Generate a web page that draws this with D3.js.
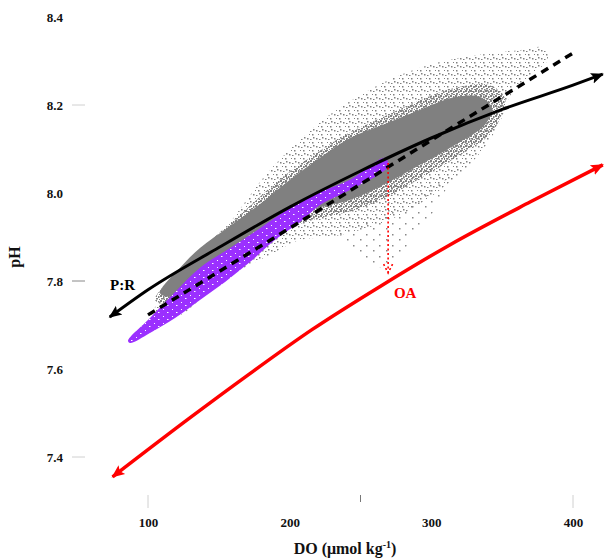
<!DOCTYPE html>
<html>
<head>
<meta charset="utf-8">
<script src="https://cdn.jsdelivr.net/npm/d3@7"></script>
<style>
body { margin: 0; background: #fff; }
svg text { font-family: "Liberation Serif", "Times New Roman", serif; font-weight: bold; }
</style>
</head>
<body>
<div id="chart"></div>
<script>
// tick labels
var xTicks = [100, 200, 300, 400];
var yTicks = [7.4, 7.6, 7.8, 8.0, 8.2, 8.4];
// only these tick marks are visible in the figure
var xTickMarks = [100, 250, 400];
var yTickMarks = [7.4, 7.8, 8.2];

// gray observation cloud, drawn as outlines [DO, pH]
var cloudFaint = [[235,7.900],[260,7.940],[290,7.985],[312,8.030],[302,7.960],[285,7.890],[270,7.830],[252,7.850]];
var cloudSparse = [[101,7.716],[119,7.791],[140,7.870],[158,7.934],[172,7.995],[186,8.052],[207,8.120],[228,8.177],
	[250,8.223],[278,8.268],[306,8.298],[334,8.314],[363,8.325],[380,8.330],[382,8.302],[370,8.268],[356,8.223],
	[349,8.166],[341,8.120],[327,8.064],[306,8.007],[285,7.962],[265,7.932],[245,7.912],[228,7.900],
	[207,7.893],[186,7.859],[165,7.825],[144,7.780],[123,7.723]];
var cloudMid = [[105,7.757],[126,7.836],[147,7.900],[168.5,7.960],[190,8.023],[214,8.080],[239,8.132],[264,8.170],
	[292,8.211],[317,8.239],[341,8.245],[352,8.216],[348.5,8.170],[341,8.132],[320,8.086],[296,8.041],[271,7.995],
	[246,7.961],[221,7.943],[200,7.920],[179,7.882],[158,7.843],[137,7.798],[115.5,7.750]];
var cloudCore = [[108.5,7.772],[122.6,7.830],[136.7,7.875],[157.9,7.925],[179.1,7.975],[200.2,8.030],[221.4,8.080],
	[242.6,8.125],[265.9,8.155],[292,8.189],[316.7,8.218],[334.4,8.218],[342.8,8.193],[337.9,8.155],[316.7,8.109],
	[292,8.064],[265.9,8.018],[242.6,7.984],[221.4,7.968],[200.2,7.945],[179.1,7.905],[157.9,7.868],[136.7,7.820],
	[118,7.765]];

// purple traces, as the outline of the bundle
var purpleBand = [[85.9,7.664],[101.4,7.716],[119.1,7.775],[136.7,7.830],[157.9,7.875],[179.1,7.920],[200.2,7.966],
	[221.4,8.002],[242.6,8.030],[267.3,8.080],[269.4,8.061],[242.6,8.007],[221.4,7.973],[207.3,7.934],[189.6,7.893],
	[172,7.843],[154.4,7.798],[136.7,7.757],[119.1,7.716],[101.4,7.682],[87.3,7.659]];

// P:R curve (solid black), linear fit (dashed), OA shifted curve (red)
var prCurve = [[73,7.718],[100,7.780],[150,7.876],[200,7.968],[250,8.050],[300,8.125],[350,8.190],[400,8.245],[421,8.270]];
var fitLine = [[100,7.723],[200,7.920],[300,8.120],[401,8.320]];
var oaCurve = [[75,7.355],[130,7.490],[170,7.585],[216,7.690],[265,7.790],[313,7.882],[370,7.980],[421,8.064]];
var oaShift = [[269.5,8.068],[269.5,7.818]];

var width = 604, height = 560;

var svg = d3.select("#chart")
	.append("svg")
	.attr("width", width)
	.attr("height", height);

// DO 100 -> 148px, 400 -> 573px ; pH 7.4 -> 457px, 8.4 -> 17px
var x = d3.scaleLinear().domain([100, 400]).range([148, 573]);
var y = d3.scaleLinear().domain([7.4, 8.4]).range([457, 17]);

var defs = svg.append("defs");

// dot patterns for the thinner parts of the cloud
function addPattern(id, w, h, color, rects) {
	var p = defs.append("pattern").attr("id", id)
		.attr("width", w).attr("height", h).attr("patternUnits", "userSpaceOnUse");
	rects.forEach(function(r) {
		p.append("rect").attr("x", r[0]).attr("y", r[1]).attr("width", r[2]).attr("height", r[3]).attr("fill", color);
	});
}
addPattern("faint", 13, 11, "#888", [[2,3,1.5,1.5],[9,8,1.5,1.5]]);
addPattern("sparse", 9, 8, "#808080", [[1,2,1.5,1.5],[6,6,1.5,1.5],[7,1,1.5,1.5],[3,6,1,1],[4,3,1.5,1]]);
addPattern("mid", 5, 5, "#808080", [[0,0,2,2],[3,1,1.5,2],[1,3,2,1.5],[4,4,1,1]]);
addPattern("speck", 9, 7, "#ffffff", [[1,1,1,1],[5,4,1.5,1]]);

function addArrow(id, color) {
	defs.append("marker")
		.attr("id", id)
		.attr("viewBox", "0 0 10 10")
		.attr("refX", 9)
		.attr("refY", 5)
		.attr("markerWidth", 13)
		.attr("markerHeight", 13)
		.attr("markerUnits", "userSpaceOnUse")
		.attr("orient", "auto-start-reverse")
		.append("path")
		.attr("d", "M0,0.8L10,5L0,9.2L2,5z")
		.attr("fill", color);
}
addArrow("headBlack", "#000");
addArrow("headRed", "#ff0000");

var area = d3.line()
	.x(function(d) { return x(d[0]); })
	.y(function(d) { return y(d[1]); })
	.curve(d3.curveCatmullRomClosed.alpha(0.5));

var line = d3.line()
	.x(function(d) { return x(d[0]); })
	.y(function(d) { return y(d[1]); })
	.curve(d3.curveMonotoneX);

// cloud
svg.append("path").attr("d", area(cloudFaint)).attr("fill", "url(#faint)");
svg.append("path").attr("d", area(cloudSparse)).attr("fill", "url(#sparse)");
svg.append("path").attr("d", area(cloudMid)).attr("fill", "url(#mid)");
svg.append("path").attr("d", area(cloudCore)).attr("fill", "#808080");

// purple bundle
svg.append("path").attr("d", area(purpleBand)).attr("fill", "#9b30ff");
svg.append("path").attr("d", area(purpleBand)).attr("fill", "url(#speck)");

// dashed fit
svg.append("path")
	.attr("d", line(fitLine))
	.attr("fill", "none")
	.attr("stroke", "#000")
	.attr("stroke-width", 3.5)
	.attr("stroke-dasharray", "8,6");

// P:R arrow
svg.append("path")
	.attr("d", line(prCurve))
	.attr("fill", "none")
	.attr("stroke", "#000")
	.attr("stroke-width", 3)
	.attr("marker-start", "url(#headBlack)")
	.attr("marker-end", "url(#headBlack)");

// OA curve
svg.append("path")
	.attr("d", line(oaCurve))
	.attr("fill", "none")
	.attr("stroke", "#ff0000")
	.attr("stroke-width", 3.5)
	.attr("marker-start", "url(#headRed)")
	.attr("marker-end", "url(#headRed)");

// dotted OA shift arrow
var sx = x(oaShift[0][0]), sy0 = y(oaShift[0][1]), sy1 = y(oaShift[1][1]);
svg.append("path")
	.attr("d", "M" + sx + "," + sy0 + "L" + sx + "," + sy1 +
		"M" + (sx - 4.5) + "," + (sy1 - 9) + "L" + sx + "," + sy1 + "L" + (sx + 4.5) + "," + (sy1 - 9))
	.attr("fill", "none")
	.attr("stroke", "#ff0000")
	.attr("stroke-width", 1.6)
	.attr("stroke-dasharray", "2,2.5");

// labels on the plot
svg.append("text")
	.attr("x", x(82))
	.attr("y", y(7.78))
	.attr("text-anchor", "middle")
	.style("font-size", "15px")
	.attr("fill", "#000")
	.text("P:R");
svg.append("text")
	.attr("x", x(281.5))
	.attr("y", y(7.761))
	.attr("text-anchor", "middle")
	.style("font-size", "15px")
	.attr("fill", "#ff0000")
	.text("OA");

// axes: labels only, marks drawn separately
var xAxis = svg.append("g")
	.attr("transform", "translate(0,495)")
	.call(d3.axisBottom(x).tickValues(xTicks).tickSize(0).tickPadding(23).tickFormat(d3.format("d")));
var yAxis = svg.append("g")
	.attr("transform", "translate(85,0)")
	.call(d3.axisLeft(y).tickValues(yTicks).tickSize(0).tickPadding(22).tickFormat(d3.format(".1f")));
[xAxis, yAxis].forEach(function(g) {
	g.select(".domain").remove();
	g.selectAll("text")
		.style("font-family", "'Liberation Serif', serif")
		.style("font-weight", "bold")
		.style("font-size", "13px")
		.attr("fill", "#111");
});

svg.selectAll(".xmark")
	.data(xTickMarks)
	.enter()
	.append("line")
	.attr("x1", function(d) { return x(d); })
	.attr("x2", function(d) { return x(d); })
	.attr("y1", 495)
	.attr("y2", function(d) { return d === 250 ? 502 : 508; })
	.attr("stroke", function(d) { return d === 250 ? "#777" : "#d0d0d0"; })
	.attr("stroke-width", 1);
svg.selectAll(".ymark")
	.data(yTickMarks)
	.enter()
	.append("line")
	.attr("x1", 72)
	.attr("x2", 85)
	.attr("y1", function(d) { return y(d); })
	.attr("y2", function(d) { return y(d); })
	.attr("stroke", function(d) { return d === 7.8 ? "#888" : "#d0d0d0"; })
	.attr("stroke-width", 1);

// axis titles
var xTitle = svg.append("text")
	.attr("x", 345)
	.attr("y", 554)
	.attr("text-anchor", "middle")
	.style("font-size", "16px")
	.attr("fill", "#111");
xTitle.append("tspan").text("DO (\u03bcmol kg");
xTitle.append("tspan").attr("dy", -6).style("font-size", "10px").text("-1");
xTitle.append("tspan").attr("dy", 6).text(")");

svg.append("text")
	.attr("transform", "translate(20,257) rotate(-90)")
	.attr("text-anchor", "middle")
	.style("font-size", "16px")
	.attr("fill", "#111")
	.text("pH");
</script>
</body>
</html>
